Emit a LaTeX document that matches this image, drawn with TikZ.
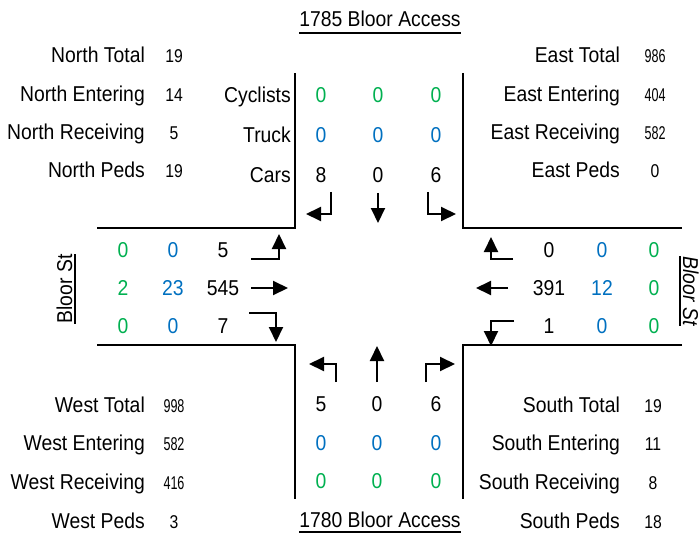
\documentclass[tikz,border=0pt]{standalone}
\usepackage{fontspec}
\setmainfont[FakeStretch=0.9]{Liberation Sans}
\newfontfamily\numfont[FakeStretch=0.85]{Liberation Sans}
\newfontfamily\numfontn[FakeStretch=0.68]{Liberation Sans}
\usetikzlibrary{arrows.meta}
\definecolor{cgreen}{HTML}{00B050}
\definecolor{cblue}{HTML}{0070C0}
\tikzset{
  lbl/.style={anchor=base east, inner sep=0pt, font=\fontsize{21.5}{24}\selectfont},
  cnt/.style={anchor=base, inner sep=0pt, font=\fontsize{21.5}{24}\selectfont},
  val/.style={anchor=base, inner sep=0pt, font=\numfont\fontsize{18.5}{22}\selectfont},
  valn/.style={anchor=base, inner sep=0pt, font=\numfontn\fontsize{18.5}{22}\selectfont},
  grn/.style={text=cgreen},
  blu/.style={text=cblue},
  road/.style={line width=2pt},
  uline/.style={line width=1.3pt},
  mv/.style={line width=2pt, -{Triangle[length=15pt,width=14pt]}},
}
\begin{document}
\begin{tikzpicture}[x=1pt,y=-1pt]
\useasboundingbox (0,0) rectangle (700,537);

% street names
\node[cnt] (tn) at (380,27) {1785 Bloor Access};
\draw[uline] ([yshift=-6pt]tn.base west) -- ([yshift=-6pt]tn.base east);
\node[cnt] (ts) at (380,527) {1780 Bloor Access};
\draw[uline] ([yshift=-5pt]ts.base west) -- ([yshift=-5pt]ts.base east);
\node[cnt, rotate=90] (tw) at (72,289) {Bloor St};
\draw[uline] ([xshift=3pt]tw.base west) -- ([xshift=3pt]tw.base east);
\node[cnt, rotate=-90, font=\fontsize{21.5}{24}\selectfont\itshape] (te) at (683,291) {Bloor St};
\draw[uline] ([xshift=-3pt]te.base west) -- ([xshift=-3pt]te.base east);

% kerb lines
\draw[road] (97,228) -- (295,228) -- (295,73);
\draw[road] (463,73) -- (463,228) -- (682,228);
\draw[road] (97,345) -- (295,345) -- (295,499);
\draw[road] (682,345) -- (463,345) -- (463,499);

% approach summaries
\node[lbl] (nl1) at (145,63)  {North Total};     \node[val] (nv1) at (174,63)  {19};
\node[lbl] (nl2) at (145,102) {North Entering};  \node[val] (nv2) at (174,102) {14};
\node[lbl] (nl3) at (145,140) {North Receiving}; \node[val] (nv3) at (174,140) {5};
\node[lbl] (nl4) at (145,178) {North Peds};      \node[val] (nv4) at (174,178) {19};

\node[lbl] (el1) at (620,63)  {East Total};      \node[valn] (ev1) at (655,63)  {986};
\node[lbl] (el2) at (620,102) {East Entering};   \node[valn] (ev2) at (655,102) {404};
\node[lbl] (el3) at (620,140) {East Receiving};  \node[valn] (ev3) at (655,140) {582};
\node[lbl] (el4) at (620,178) {East Peds};       \node[val]  (ev4) at (655,178) {0};

\node[lbl] (wl1) at (145,412) {West Total};      \node[valn] (wv1) at (174,412) {998};
\node[lbl] (wl2) at (145,450) {West Entering};   \node[valn] (wv2) at (174,450) {582};
\node[lbl] (wl3) at (145,489) {West Receiving};  \node[valn] (wv3) at (174,489) {416};
\node[lbl] (wl4) at (145,528) {West Peds};       \node[val]  (wv4) at (174,528) {3};

\node[lbl] (sl1) at (620,412) {South Total};     \node[val] (sv1) at (653,412) {19};
\node[lbl] (sl2) at (620,450) {South Entering};  \node[val] (sv2) at (653,450) {11};
\node[lbl] (sl3) at (620,489) {South Receiving}; \node[val] (sv3) at (653,489) {8};
\node[lbl] (sl4) at (620,528) {South Peds};      \node[val] (sv4) at (653,528) {18};

% north approach counts
\node[lbl] (kc) at (291,103) {Cyclists};
\node[lbl] (kt) at (291,143) {Truck};
\node[lbl] (kv) at (291,183) {Cars};
\node[cnt,grn] (n11) at (321,103) {0}; \node[cnt,grn] (n12) at (378,103) {0}; \node[cnt,grn] (n13) at (436,103) {0};
\node[cnt,blu] (n21) at (321,143) {0}; \node[cnt,blu] (n22) at (378,143) {0}; \node[cnt,blu] (n23) at (436,143) {0};
\node[cnt]     (n31) at (321,183) {8}; \node[cnt]     (n32) at (378,183) {0}; \node[cnt]     (n33) at (436,183) {6};

% west approach counts
\node[cnt,grn] (w11) at (123,257) {0}; \node[cnt,blu] (w12) at (173,257) {0};  \node[cnt] (w13) at (223,257) {5};
\node[cnt,grn] (w21) at (123,295) {2}; \node[cnt,blu] (w22) at (173,295) {23}; \node[cnt] (w23) at (223,295) {545};
\node[cnt,grn] (w31) at (123,333) {0}; \node[cnt,blu] (w32) at (173,333) {0};  \node[cnt] (w33) at (223,333) {7};

% east approach counts
\node[cnt] (e11) at (549,257) {0};   \node[cnt,blu] (e12) at (602,257) {0};  \node[cnt,grn] (e13) at (654,257) {0};
\node[cnt] (e21) at (549,295) {391}; \node[cnt,blu] (e22) at (602,295) {12}; \node[cnt,grn] (e23) at (654,295) {0};
\node[cnt] (e31) at (549,333) {1};   \node[cnt,blu] (e32) at (602,333) {0};  \node[cnt,grn] (e33) at (654,333) {0};

% south approach counts
\node[cnt]     (s11) at (321,411) {5}; \node[cnt]     (s12) at (377,411) {0}; \node[cnt]     (s13) at (436,411) {6};
\node[cnt,blu] (s21) at (321,450) {0}; \node[cnt,blu] (s22) at (377,450) {0}; \node[cnt,blu] (s23) at (436,450) {0};
\node[cnt,grn] (s31) at (321,488) {0}; \node[cnt,grn] (s32) at (377,488) {0}; \node[cnt,grn] (s33) at (436,488) {0};

% turning movement arrows
\coordinate (nL) at (331,192); \coordinate (nT) at (378,193); \coordinate (nR) at (428,192);
\draw[mv] (nL) -- ++(0,22) -- ++(-25,0);
\draw[mv] (nT) -- ++(0,30);
\draw[mv] (nR) -- ++(0,22) -- ++(28,0);

\coordinate (wL) at (251,259); \coordinate (wT) at (251,288); \coordinate (wR) at (249,313);
\draw[mv] (wL) -- ++(28,0) -- ++(0,-25);
\draw[mv] (wT) -- ++(37,0);
\draw[mv] (wR) -- ++(27,0) -- ++(0,29);

\coordinate (eR) at (513,259); \coordinate (eT) at (508,288); \coordinate (eL) at (514,321);
\draw[mv] (eR) -- ++(-22,0) -- ++(0,-22);
\draw[mv] (eT) -- ++(-32,0);
\draw[mv] (eL) -- ++(-23,0) -- ++(0,25);

\coordinate (sL) at (336,382); \coordinate (sT) at (377,382); \coordinate (sR) at (426,382);
\draw[mv] (sL) -- ++(0,-18) -- ++(-27,0);
\draw[mv] (sT) -- ++(0,-36);
\draw[mv] (sR) -- ++(0,-18) -- ++(29,0);
\end{tikzpicture}
\end{document}
